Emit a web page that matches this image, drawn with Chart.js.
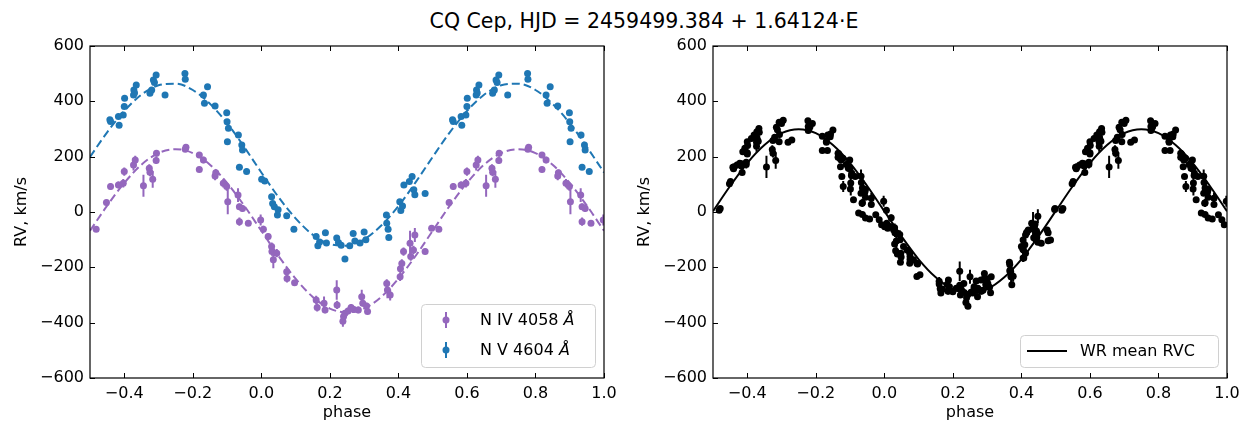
<!DOCTYPE html>
<html>
<head>
<meta charset="utf-8">
<script src="https://cdn.jsdelivr.net/npm/chart.js@4.4.1/dist/chart.umd.min.js"></script>
<style>
  body { margin: 0; background: #fff; }
  #wrap { position: relative; width: 1258px; height: 425px; font-family: "DejaVu Sans", sans-serif; }
  #title { position: absolute; top: 9px; left: 0; width: 1288px; text-align: center; font-size: 20.5px; color: #000; white-space: nowrap; }
  .panel { position: absolute; top: 0; width: 629px; height: 425px; }
</style>
</head>
<body>
<div id="wrap">
  <div id="title">CQ Cep, HJD = 2459499.384 + 1.64124·E</div>
  <div class="panel" style="left:0"><canvas id="lines" width="629" height="425"></canvas></div>
  <div class="panel" style="left:629px"><canvas id="mean" width="629" height="425"></canvas></div>
</div>
<script>
const xTicks = [-0.4, -0.2, 0, 0.2, 0.4, 0.6, 0.8, 1.0];
const yTicks = [-600, -400, -200, 0, 200, 400, 600];

// N IV 4058: orbital phase, RV (km/s), error
const nivPhase = [0.006, 0.020, 0.030, 0.031, 0.035, 0.045, 0.074, 0.075, 0.097, 0.160, 0.163, 0.183, 0.186, 0.220, 0.221,
  0.238, 0.240, 0.244, 0.253, 0.262, 0.270, 0.283, 0.293, 0.296, 0.307, 0.310, 0.366, 0.368, 0.376, 0.405, 0.406, 0.410,
  0.415, 0.434, 0.436, 0.444, 0.448, 0.478, 0.497, 0.518, 0.548, 0.560, 0.583, 0.597, 0.600, 0.627, 0.632, 0.656, 0.673,
  0.675, 0.683, 0.693, 0.694, 0.778, 0.780, 0.819, 0.819, 0.831, 0.865, 0.867, 0.889, 0.899, 0.902, 0.932, 0.936, 0.936,
  0.945, 0.962, 0.998];
const nivRv = [-62, -89, -125, -143, -173, -149, -216, -240, -256, -318, -345, -330, -354, -282, -336,
  -395, -378, -366, -358, -345, -352, -354, -306, -330, -340, -360, -258, -282, -300, -234, -205, -186,
  -143, -113, -161, -137, -83, -143, -59, -62, 34, 92, 98, 104, 146, 170, 188, 95, 158,
  144, 118, 186, 212, 227, 234, 206, 154, 188, 130, 142, 104, 92, 37, 61, 19, -35,
  13, -41, -29];
const nivErr = [12, 12, 15, 15, 30, 15, 15, 15, 10, 15, 15, 25, 12, 35, 15,
  20, 15, 12, 12, 12, 10, 12, 25, 12, 12, 10, 15, 30, 20, 15, 15, 15,
  15, 45, 15, 15, 25, 10, 10, 10, 10, 12, 12, 15, 15, 20, 15, 40, 15,
  15, 30, 12, 12, 10, 10, 10, 10, 12, 15, 12, 15, 15, 45, 25, 12, 15,
  12, 10, 20];

// N V 4604
const nvPhase = [0.001, 0.010, 0.030, 0.033, 0.038, 0.047, 0.049, 0.074, 0.095, 0.160, 0.165, 0.170, 0.187, 0.190, 0.220,
  0.225, 0.233, 0.244, 0.258, 0.268, 0.273, 0.288, 0.300, 0.305, 0.365, 0.366, 0.370, 0.372, 0.404, 0.407, 0.412,
  0.416, 0.432, 0.440, 0.445, 0.448, 0.478, 0.558, 0.560, 0.583, 0.585, 0.597, 0.600, 0.601, 0.627, 0.628, 0.630,
  0.635, 0.675, 0.680, 0.685, 0.688, 0.693, 0.719, 0.777, 0.778, 0.831, 0.834, 0.843, 0.865, 0.899, 0.900, 0.904,
  0.901, 0.933, 0.936, 0.943, 0.945, 0.957];
const nvRv = [118, 112, 55, 31, 19, -11, 8, -14, -62, -89, -122, -108, -75, -112, -94,
  -110, -120, -170, -122, -78, -105, -112, -72, -100, -11, -41, -62, -92, 37, 5, 22,
  98, 110, 128, 80, 62, 67, 333, 327, 345, 314, 351, 381, 411, 423, 441, 430,
  459, 429, 441, 477, 468, 495, 423, 501, 480, 423, 393, 453, 383, 359, 326, 303,
  254, 278, 162, 242, 224, 146];
const nvErr = nvPhase.map(() => 8);

// further measurements that only enter the mean curve (already relative to systemic)
const otherPhase = [0.007, 0.017, 0.027, 0.036, 0.046, 0.056, 0.048, 0.066, 0.075, 0.085, 0.095, 0.104,
  0.190, 0.200, 0.210, 0.222, 0.232, 0.250, 0.262, 0.272, 0.282, 0.292, 0.302, 0.312, 0.368, 0.370,
  0.400, 0.405, 0.412, 0.420, 0.430, 0.438, 0.446, 0.458, 0.475, 0.485, 0.498, 0.521, 0.551,
  0.562, 0.570, 0.578, 0.587, 0.593, 0.600, 0.612, 0.620, 0.628, 0.634, 0.700, 0.705, 0.730,
  0.783, 0.790, 0.835, 0.842, 0.850, 0.872, 0.874, 0.879, 0.876, 0.880, 0.895, 0.905, 0.915,
  0.910, 0.925, 0.935, 0.945, 0.932, 0.962, 0.975, 0.985, 0.992];
const otherRv = [-41, -52, -64, -76, -100, -125, -149, -137, -161, -173, -185, -227,
  -270, -288, -276, -300, -258, -234, -270, -306, -246, -222, -258, -234, -210, -234,
  -125, -101, -83, -65, -41, -53, -77, -113, -65, -101, 13, 13, 110,
  164, 170, 176, 218, 230, 254, 266, 278, 290, 302, 320, 332, 260,
  308, 320, 278, 272, 296, 164, 188, 194, 128, 92, 158, 140, 128,
  44, -4, 32, -22, 68, 50, -10, -28, -46];
const otherErr = otherPhase.map(() => 8);
otherErr[17] = 25; otherErr[25] = 25; otherErr[61] = 20; otherErr[70] = 20;

// systemic velocities removed for the mean curve
const nivGamma = -68;
const nvGamma = 171;

// fitted RV curves, read every 0.05 in phase
const curvePhase = [-0.5, -0.45, -0.4, -0.35, -0.3, -0.25, -0.2, -0.15, -0.1, -0.05, 0, 0.05, 0.1, 0.15, 0.2, 0.25,
  0.3, 0.35, 0.4, 0.45, 0.5, 0.55, 0.6, 0.65, 0.7, 0.75, 0.8, 0.85, 0.9, 0.95, 1.0];
const nvCurve = [199, 288, 365, 424, 458, 464, 441, 391, 321, 235, 143, 54, -23, -82, -116, -122,
  -99, -49, 21, 107, 199, 288, 365, 424, 458, 464, 441, 391, 321, 235, 143];
const nivCurve = [-68, 23, 105, 171, 213, 227, 213, 171, 105, 23, -68, -159, -241, -307, -349, -363,
  -349, -307, -241, -159, -68, 23, 105, 171, 213, 227, 213, 171, 105, 23, -68];
const meanCurve = [3, 94, 177, 242, 285, 299, 285, 242, 177, 94, 3, -88, -171, -236, -279, -293,
  -279, -236, -171, -88, 3, 94, 177, 242, 285, 299, 285, 242, 177, 94, 3];

const PURPLE = '#9467bd';
const BLUE = '#1f77b4';
const FONT = 'DejaVu Sans';

// phases 0.5..1 are repeated one cycle earlier so the plot spans -0.5..1
function fold(phase, rv, err, shift) {
  const out = [];
  phase.forEach((p, i) => {
    const pt = { y: rv[i] - shift, e: err[i] };
    out.push({ x: p, ...pt });
    if (p >= 0.5) out.push({ x: p - 1, ...pt });
  });
  return out;
}

function curve(values) {
  return curvePhase.map((p, i) => ({ x: p, y: values[i] }));
}

function fmt(v, d) {
  return v.toFixed(d).replace('-', '\u2212');
}

// vertical error bars under the markers
const errorBars = {
  id: 'errorBars',
  beforeDatasetsDraw(chart) {
    const { ctx, chartArea: a, scales: { y } } = chart;
    ctx.save();
    ctx.beginPath();
    ctx.rect(a.left, a.top, a.width, a.height);
    ctx.clip();
    chart.data.datasets.forEach((ds, di) => {
      if (!ds.errorBars) return;
      const meta = chart.getDatasetMeta(di);
      ctx.strokeStyle = ds.backgroundColor;
      ctx.lineWidth = 2;
      ctx.beginPath();
      meta.data.forEach((el, i) => {
        const d = ds.data[i];
        ctx.moveTo(el.x, y.getPixelForValue(d.y + d.e));
        ctx.lineTo(el.x, y.getPixelForValue(d.y - d.e));
      });
      ctx.stroke();
    });
    ctx.restore();
  }
};

// axes frame with inward ticks on left, bottom and top
const frame = {
  id: 'frame',
  afterDraw(chart) {
    const { ctx, chartArea: a, scales: { x, y } } = chart;
    ctx.save();
    ctx.strokeStyle = '#000';
    ctx.lineWidth = 1;
    ctx.beginPath();
    xTicks.forEach(v => {
      const px = Math.round(x.getPixelForValue(v)) + 0.5;
      ctx.moveTo(px, a.bottom); ctx.lineTo(px, a.bottom - 5);
      ctx.moveTo(px, a.top); ctx.lineTo(px, a.top + 5);
    });
    yTicks.forEach(v => {
      const py = Math.round(y.getPixelForValue(v)) + 0.5;
      ctx.moveTo(a.left, py); ctx.lineTo(a.left + 5, py);
    });
    ctx.stroke();
    ctx.lineWidth = 1.2;
    ctx.strokeRect(a.left, a.top, a.right - a.left, a.bottom - a.top);
    ctx.restore();
  }
};

function drawLabel(ctx, text, italic, x, y) {
  ctx.font = '16px "' + FONT + '"';
  ctx.fillText(text, x, y);
  if (italic) {
    const w = ctx.measureText(text).width;
    ctx.font = 'italic 16px "' + FONT + '"';
    ctx.fillText(italic, x + w, y);
  }
}

// legend box drawn inside the plot area
const boxLegend = {
  id: 'boxLegend',
  afterDraw(chart, args, opts) {
    const { ctx } = chart;
    const b = opts.box;
    ctx.save();
    ctx.beginPath();
    ctx.roundRect(b[0] + 0.5, b[1] + 0.5, b[2], b[3], 4);
    ctx.fillStyle = 'rgba(255,255,255,0.8)';
    ctx.fill();
    ctx.strokeStyle = '#d0d0d0';
    ctx.lineWidth = 1;
    ctx.stroke();
    ctx.textBaseline = 'middle';
    opts.items.forEach(it => {
      ctx.strokeStyle = it.color;
      ctx.fillStyle = it.color;
      if (it.kind === 'line') {
        ctx.lineWidth = 2;
        ctx.beginPath();
        ctx.moveTo(it.mx - 20, it.y);
        ctx.lineTo(it.mx + 20, it.y);
        ctx.stroke();
      } else {
        ctx.lineWidth = 2;
        ctx.beginPath();
        ctx.moveTo(it.mx, it.y - 8);
        ctx.lineTo(it.mx, it.y + 8);
        ctx.stroke();
        ctx.beginPath();
        ctx.arc(it.mx, it.y, 3.5, 0, Math.PI * 2);
        ctx.fill();
      }
      ctx.fillStyle = '#000';
      drawLabel(ctx, it.text, it.italic, it.tx, it.y + 1);
    });
    ctx.restore();
  }
};

function makeChart(id, datasets, yWidth, padRight, yTitlePad, legend) {
  return new Chart(document.getElementById(id), {
    type: 'scatter',
    data: { datasets },
    plugins: [errorBars, frame, boxLegend],
    options: {
      responsive: false,
      animation: false,
      events: [],
      layout: { padding: { left: 0, right: padRight, top: 46, bottom: 0 } },
      plugins: { legend: { display: false }, tooltip: { enabled: false }, boxLegend: legend },
      scales: {
        x: {
          type: 'linear', min: -0.5, max: 1.0,
          afterBuildTicks: s => { s.ticks = xTicks.map(v => ({ value: v })); },
          afterFit: s => { s.height = 47; },
          grid: { display: false, drawTicks: false },
          border: { display: false },
          ticks: { autoSkip: false, maxRotation: 0, padding: 6, color: '#000',
            font: { family: FONT, size: 16 }, callback: v => fmt(v, 1) },
          title: { display: true, text: 'phase', color: '#000', padding: { top: 0, bottom: 3 },
            font: { family: FONT, size: 16 } }
        },
        y: {
          type: 'linear', min: -600, max: 600,
          afterBuildTicks: s => { s.ticks = yTicks.map(v => ({ value: v })); },
          afterFit: s => { s.width = yWidth; },
          grid: { display: false, drawTicks: false },
          border: { display: false },
          ticks: { autoSkip: false, padding: 6, color: '#000',
            font: { family: FONT, size: 16 }, callback: v => fmt(v, 0) },
          title: { display: true, text: 'RV, km/s', color: '#000', padding: { top: yTitlePad, bottom: 0 },
            font: { family: FONT, size: 16 } }
        }
      }
    }
  });
}

const lineOpts = { showLine: true, pointRadius: 0, borderWidth: 2, cubicInterpolationMode: 'monotone', fill: false };
const dotOpts = { pointRadius: 3.5, borderWidth: 0, errorBars: true };

makeChart('lines', [
  { ...lineOpts, data: curve(nvCurve), borderColor: BLUE, borderDash: [8, 4], order: 0 },
  { ...lineOpts, data: curve(nivCurve), borderColor: PURPLE, borderDash: [8, 4], order: 1 },
  { ...dotOpts, data: fold(nvPhase, nvRv, nvErr, 0), backgroundColor: BLUE, pointBackgroundColor: BLUE, order: 2 },
  { ...dotOpts, data: fold(nivPhase, nivRv, nivErr, 0), backgroundColor: PURPLE, pointBackgroundColor: PURPLE, order: 3 }
], 90, 25, 12, {
  box: [421, 304, 174, 63],
  items: [
    { kind: 'err', color: PURPLE, mx: 446, y: 320, tx: 480, text: 'N IV 4058 ', italic: '\u00C5' },
    { kind: 'err', color: BLUE, mx: 446, y: 350, tx: 480, text: 'N V 4604 ', italic: '\u00C5' }
  ]
});

const meanPoints = fold(nivPhase, nivRv, nivErr, nivGamma)
  .concat(fold(nvPhase, nvRv, nvErr, nvGamma))
  .concat(fold(otherPhase, otherRv, otherErr, 0));

makeChart('mean', [
  { ...lineOpts, data: curve(meanCurve), borderColor: '#000', order: 0 },
  { ...dotOpts, data: meanPoints, backgroundColor: '#000', pointBackgroundColor: '#000', order: 1 }
], 84, 31, 6, {
  box: [391, 335, 198, 32],
  items: [
    { kind: 'line', color: '#000', mx: 418, y: 351, tx: 451, text: 'WR mean RVC' }
  ]
});
</script>
</body>
</html>
